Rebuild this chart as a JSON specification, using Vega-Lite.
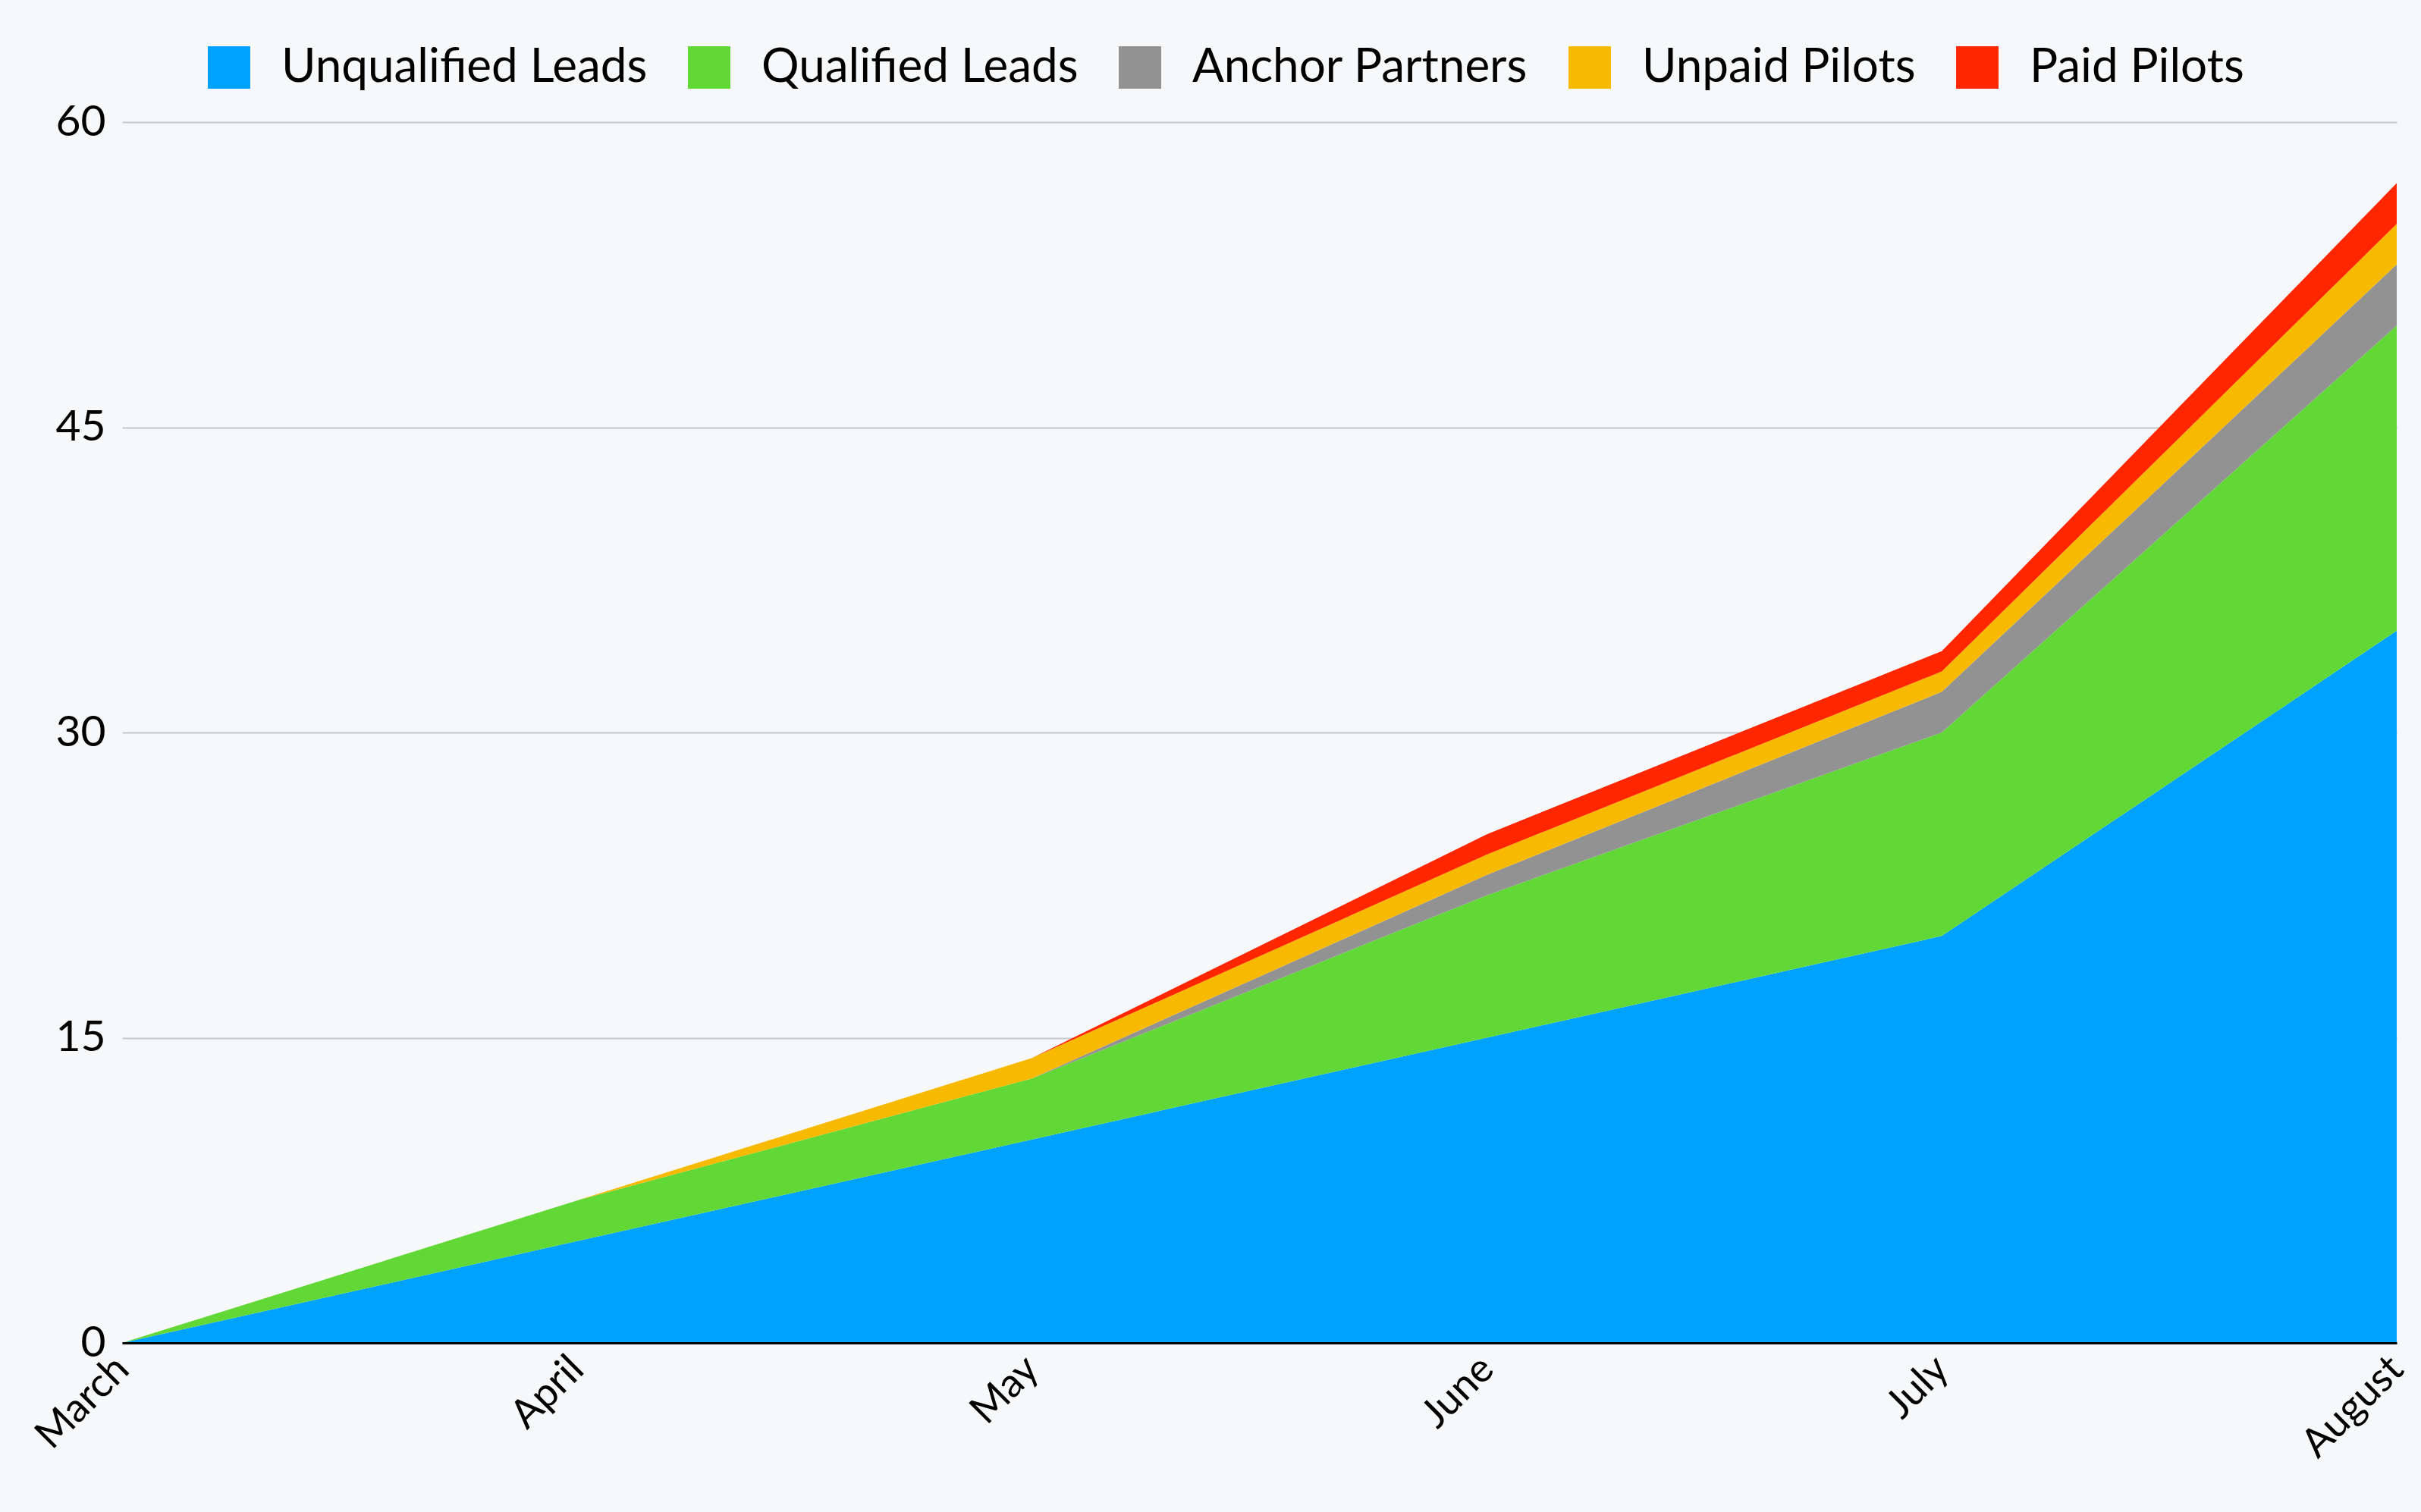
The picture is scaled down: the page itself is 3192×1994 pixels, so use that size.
{
  "$schema": "https://vega.github.io/schema/vega-lite/v6.json",
  "width": 2999,
  "height": 1610,
  "autosize": "none",
  "padding": {"left": 161, "top": 161, "right": 32, "bottom": 223},
  "background": "#f7f8fa",
  "config": {
    "font": "Lato",
    "view": {"stroke": null}
  },
  "data": {
    "values": [
      {"month": "March", "series": "Unqualified Leads", "rank": 1, "value": 0},
      {"month": "April", "series": "Unqualified Leads", "rank": 1, "value": 5},
      {"month": "May", "series": "Unqualified Leads", "rank": 1, "value": 10},
      {"month": "June", "series": "Unqualified Leads", "rank": 1, "value": 15},
      {"month": "July", "series": "Unqualified Leads", "rank": 1, "value": 20},
      {"month": "August", "series": "Unqualified Leads", "rank": 1, "value": 35},
      {"month": "March", "series": "Qualified Leads", "rank": 2, "value": 0},
      {"month": "April", "series": "Qualified Leads", "rank": 2, "value": 2},
      {"month": "May", "series": "Qualified Leads", "rank": 2, "value": 3},
      {"month": "June", "series": "Qualified Leads", "rank": 2, "value": 7},
      {"month": "July", "series": "Qualified Leads", "rank": 2, "value": 10},
      {"month": "August", "series": "Qualified Leads", "rank": 2, "value": 15},
      {"month": "March", "series": "Anchor Partners", "rank": 3, "value": 0},
      {"month": "April", "series": "Anchor Partners", "rank": 3, "value": 0},
      {"month": "May", "series": "Anchor Partners", "rank": 3, "value": 0},
      {"month": "June", "series": "Anchor Partners", "rank": 3, "value": 1},
      {"month": "July", "series": "Anchor Partners", "rank": 3, "value": 2},
      {"month": "August", "series": "Anchor Partners", "rank": 3, "value": 3},
      {"month": "March", "series": "Unpaid Pilots", "rank": 4, "value": 0},
      {"month": "April", "series": "Unpaid Pilots", "rank": 4, "value": 0},
      {"month": "May", "series": "Unpaid Pilots", "rank": 4, "value": 1},
      {"month": "June", "series": "Unpaid Pilots", "rank": 4, "value": 1},
      {"month": "July", "series": "Unpaid Pilots", "rank": 4, "value": 1},
      {"month": "August", "series": "Unpaid Pilots", "rank": 4, "value": 2},
      {"month": "March", "series": "Paid Pilots", "rank": 5, "value": 0},
      {"month": "April", "series": "Paid Pilots", "rank": 5, "value": 0},
      {"month": "May", "series": "Paid Pilots", "rank": 5, "value": 0},
      {"month": "June", "series": "Paid Pilots", "rank": 5, "value": 1},
      {"month": "July", "series": "Paid Pilots", "rank": 5, "value": 1},
      {"month": "August", "series": "Paid Pilots", "rank": 5, "value": 2}
    ]
  },
  "mark": {"type": "area", "interpolate": "linear"},
  "encoding": {
    "x": {
      "field": "month",
      "type": "ordinal",
      "sort": ["March", "April", "May", "June", "July", "August"],
      "scale": {"type": "point", "padding": 0},
      "axis": {
        "title": null,
        "labelAngle": -45,
        "labelAlign": "right",
        "labelBaseline": "middle",
        "labelFontSize": 53,
        "labelColor": "#000000",
        "labelPadding": 26,
        "ticks": false,
        "domainColor": "#000000",
        "domainWidth": 3,
        "grid": false,
        "zindex": 1
      }
    },
    "y": {
      "field": "value",
      "type": "quantitative",
      "stack": "zero",
      "scale": {"domain": [0, 60]},
      "axis": {
        "title": null,
        "values": [0, 15, 30, 45, 60],
        "labelFontSize": 57,
        "labelColor": "#000000",
        "labelPadding": 22,
        "ticks": false,
        "domain": false,
        "grid": true,
        "gridColor": "#c8c8cc",
        "gridWidth": 2,
        "zindex": 0
      }
    },
    "color": {
      "field": "series",
      "type": "nominal",
      "sort": ["Unqualified Leads", "Qualified Leads", "Anchor Partners", "Unpaid Pilots", "Paid Pilots"],
      "scale": {
        "domain": ["Unqualified Leads", "Qualified Leads", "Anchor Partners", "Unpaid Pilots", "Paid Pilots"],
        "range": ["#00a2ff", "#61d836", "#929292", "#f8ba00", "#ff2600"]
      },
      "legend": {
        "title": null,
        "orient": "none",
        "direction": "horizontal",
        "legendX": 110,
        "legendY": -103,
        "symbolType": "square",
        "symbolSize": 3136,
        "symbolStrokeWidth": 0,
        "symbolOpacity": 1,
        "labelFontSize": 62,
        "labelLimit": 2000,
        "labelColor": "#000000",
        "labelOffset": 38,
        "columnPadding": 50
      }
    },
    "order": {"field": "rank", "type": "quantitative", "sort": "ascending"}
  }
}
